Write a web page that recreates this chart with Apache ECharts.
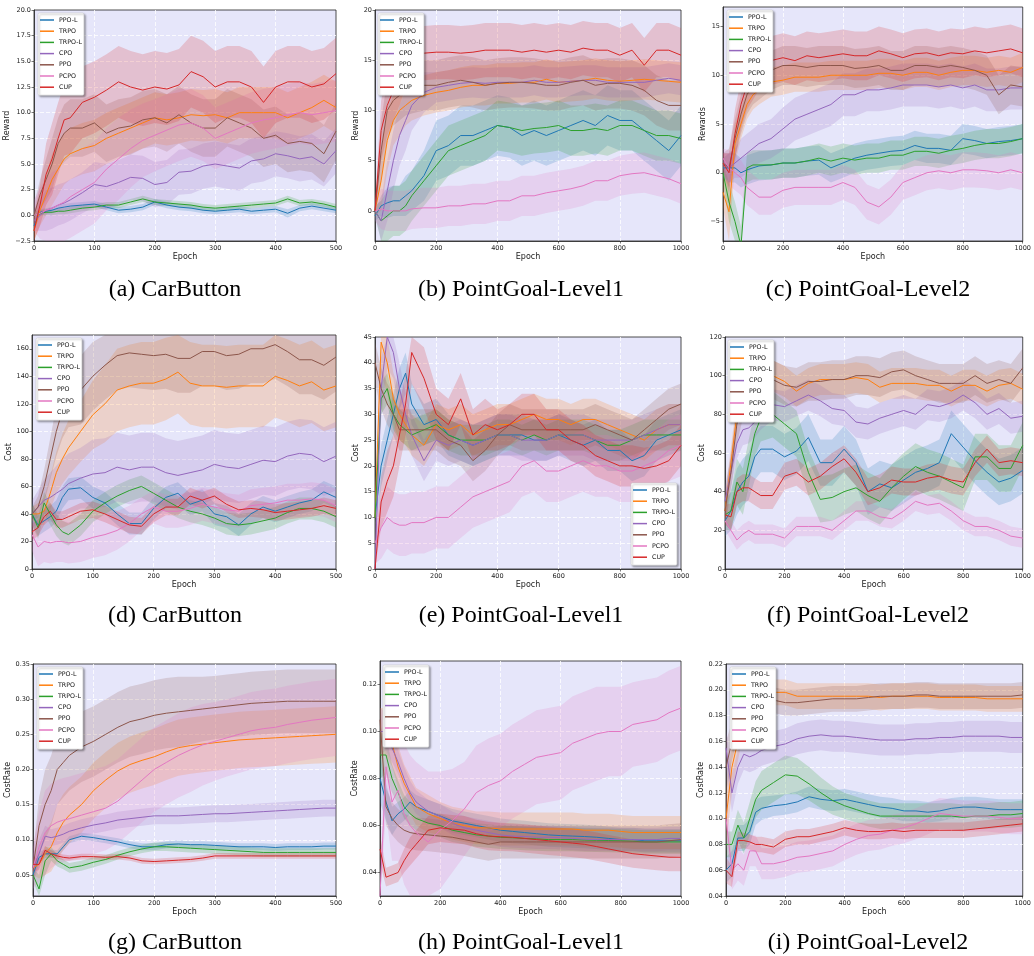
<!DOCTYPE html>
<html>
<head>
<meta charset="utf-8">
<script src="https://cdn.jsdelivr.net/npm/echarts@6/dist/echarts.min.js"></script>
<style>
  html, body { margin: 0; padding: 0; background: #fff; }
  #chart { width: 1034px; height: 956px; }
</style>
</head>
<body>
<div id="chart"></div>
<script>
var algos = ['PPO-L', 'TRPO', 'TRPO-L', 'CPO', 'PPO', 'PCPO', 'CUP'];
var colors = ['#1f77b4', '#ff7f0e', '#2ca02c', '#9467bd', '#8c564b', '#e377c2', '#d62728'];

var epochs500 = [0,10,20,30,40,50,60,80,100,120,140,160,180,200,220,240,260,280,300,320,340,360,380,400,420,440,460,480,500];
var epochs1000 = [0,20,40,60,80,100,120,160,200,240,280,320,360,400,440,480,520,560,600,640,680,720,760,800,840,880,920,960,1000];

// tick labels
var ticksA = ['-2.5','0.0','2.5','5.0','7.5','10.0','12.5','15.0','17.5','20.0'];
var ticksB = ['0','5','10','15','20'];
var ticksC = ['-5','0','5','10','15'];
var ticksD = ['0','20','40','60','80','100','120','140','160'];
var ticksE = ['0','5','10','15','20','25','30','35','40','45'];
var ticksF = ['0','20','40','60','80','100','120'];
var ticksG = ['0.05','0.10','0.15','0.20','0.25','0.30','0.35'];
var ticksH = ['0.04','0.06','0.08','0.10','0.12'];
var ticksI = ['0.04','0.06','0.08','0.10','0.12','0.14','0.16','0.18','0.20','0.22'];

// (a) CarButton - Reward
var aPPOL  = [-1.0,0.3,0.4,0.5,0.7,0.8,0.9,1.0,1.1,0.8,0.5,0.6,0.8,1.3,1.0,0.8,0.7,0.5,0.4,0.5,0.6,0.4,0.5,0.6,0.2,0.7,0.9,0.7,0.5];
var aTRPO  = [-1.5,0.5,2.0,3.5,4.5,5.5,6.0,6.5,6.8,7.5,8.0,8.5,9.0,9.5,9.3,9.5,9.8,9.7,9.8,9.5,10.0,10.0,10.0,10.0,9.5,10.0,10.5,11.2,10.5];
var aTRPOL = [0,0.2,0.3,0.3,0.4,0.4,0.5,0.7,0.8,1.0,1.0,1.3,1.6,1.3,1.2,1.1,1.0,0.8,0.7,0.8,0.9,1.0,1.1,1.2,1.6,1.2,1.3,1.1,0.8];
var aCPO   = [-0.5,0,0.5,0.7,1.0,1.2,1.5,2.2,3.0,2.8,3.2,3.7,3.6,3.0,3.2,4.2,4.3,4.8,5.0,4.8,4.6,5.3,5.5,6.0,5.8,5.5,5.7,5.0,6.3];
var aPPO   = [0,2.0,3.5,5.0,7.0,8.0,8.5,8.5,9.0,8.0,8.5,8.7,9.3,9.5,9.0,9.8,9.0,8.5,8.5,9.5,9.0,8.5,7.5,7.8,7.0,7.2,7.0,6.0,8.2];
var aPCPO  = [0,0.2,0.5,0.7,1.0,1.3,1.8,2.5,3.2,4.5,5.5,6.5,7.3,7.8,8.3,8.8,9.0,8.5,7.5,8.0,8.5,9.0,9.3,9.5,9.8,10.0,9.8,10.0,10.2];
var aCUP   = [-1.5,1.0,4.0,5.5,7.5,9.3,9.5,11.0,11.5,12.2,13.0,12.5,12.2,12.5,12.3,12.7,14.0,13.5,12.5,13.0,13.0,12.5,11.0,12.5,13.0,13.0,12.5,12.8,13.8];
var aPPOLsd  = [0.5,0.3,0.3,0.3,0.3,0.3,0.3,0.3,0.3,0.3,0.3,0.3,0.3,0.3,0.3,0.3,0.3,0.3,0.3,0.3,0.3,0.3,0.3,0.3,0.4,0.3,0.3,0.3,0.3];
var aTRPOsd  = [1.0,1.5,2.0,2.5,2.5,2.5,2.5,2.5,2.5,2.5,2.5,2.5,2.5,2.5,2.5,2.5,2.5,2.5,2.5,2.5,2.5,2.5,2.5,2.5,2.5,2.5,2.5,2.5,2.5];
var aTRPOLsd = [0.4,0.3,0.3,0.3,0.3,0.3,0.3,0.3,0.3,0.3,0.3,0.3,0.3,0.3,0.3,0.3,0.3,0.3,0.3,0.3,0.3,0.3,0.3,0.3,0.3,0.3,0.3,0.3,0.3];
var aCPOsd   = [1.0,1.5,2.0,2.0,2.0,2.0,2.0,2.0,2.2,2.2,2.2,2.2,2.2,2.2,2.2,2.2,2.2,2.2,2.2,2.2,2.2,2.2,2.2,2.2,2.2,2.2,2.2,2.2,2.2];
var aPPOsd   = [1.0,1.5,2.0,2.5,2.5,2.8,2.8,2.8,2.8,2.8,2.8,2.8,2.8,2.8,2.8,2.8,2.8,2.8,2.8,2.8,2.8,2.8,2.8,2.8,2.8,2.8,2.8,2.8,2.8];
var aPCPOsd  = [1.5,2.5,3.0,3.5,3.5,4.0,4.0,4.0,4.0,4.0,4.0,3.8,3.6,3.5,3.5,3.5,3.3,3.2,3.0,3.0,3.0,3.0,3.0,3.0,3.0,3.0,3.0,3.0,3.0];
var aCUPsd   = [1.5,2.0,3.0,3.5,3.5,3.5,3.5,3.5,3.5,3.5,3.5,3.5,3.5,3.5,3.5,3.5,3.5,3.5,3.5,3.5,3.5,3.5,3.5,3.5,3.5,3.5,3.5,3.5,3.5];

// (b) PointGoal-Level1 - Reward
var bPPOL  = [-0.5,0.5,0.8,1.0,1.0,1.5,2.0,3.5,6.0,6.5,7.5,7.5,8.0,8.5,8.3,7.5,8.0,7.5,8.0,8.5,9.0,8.5,9.5,9.0,9.0,8.0,7.0,6.0,7.5];
var bTRPO  = [0,3,7,9,10,10.5,11,11.5,11.8,12.0,12.3,12.5,12.5,12.7,12.7,12.8,12.8,13.1,12.8,12.9,13.0,13.2,13.0,12.9,13.0,13.1,13.0,12.9,12.8];
var bTRPOL = [0,-1,-0.5,0,0,0.5,1.5,3,4.5,6,6.5,7,7.5,8.5,8.3,8,8.2,8.3,8.5,8,8,8.2,8,8.5,8.5,8,7.5,7.5,7.2];
var bCPO   = [0,-1,2,5,7.5,9,10.5,11.8,12.3,12.5,12.7,12.8,12.7,12.8,12.8,12.8,13,12.8,12.8,12.9,13,13,12.8,12.8,12.8,12.8,13,13.2,13];
var bPPO   = [0,6,10,11,11.5,12,12.2,12.5,12.5,12.8,13,12.8,12.5,12.7,12.8,12.8,12.7,12.5,12.5,12.8,13,12.5,12.7,12.7,12.5,12,11,10.5,10.5];
var bPCPO  = [0,0.2,0,0,0,0,0.2,0.3,0.3,0.5,0.5,0.7,0.7,1,1,1.5,1.5,1.8,2,2.2,2.5,3,3,3.5,3.7,3.8,3.5,3.2,2.7];
var bCUP   = [0,8,10.5,12,13.5,15,15.5,15.7,15.8,15.8,15.7,15.8,16,16,16,15.8,16,15.8,16,15.8,16.2,16,16,15.5,16,14.5,16,16,15.5];
var bPPOLsd  = [0.5,1.0,1.5,1.5,1.5,2.0,2.0,2.5,3.0,3.0,3.0,3.0,3.0,3.0,3.0,3.0,3.0,3.0,3.0,3.0,3.0,3.0,3.0,3.0,3.0,3.0,3.0,3.0,3.0];
var bTRPOsd  = [0.5,3.0,3.0,2.5,2.5,2.0,2.0,2.0,2.0,2.0,2.0,2.0,2.0,2.0,2.0,2.0,2.0,2.0,2.0,2.0,2.0,2.0,2.0,2.0,2.0,2.0,2.0,2.0,2.0];
var bTRPOLsd = [0.5,2.0,2.5,2.5,2.5,2.5,2.5,2.5,2.5,2.5,2.5,2.5,2.5,2.5,2.5,2.5,2.5,2.5,2.5,2.5,2.5,2.5,2.5,2.5,2.5,2.5,2.5,2.5,2.5];
var bCPOsd   = [0.5,2.0,3.0,3.0,3.0,3.0,2.5,2.0,1.5,1.5,1.5,1.5,1.5,1.5,1.5,1.5,1.5,1.5,1.5,1.5,1.5,1.5,1.5,1.5,1.5,1.5,1.5,1.5,1.5];
var bPPOsd   = [0.5,3.0,3.0,2.5,2.5,2.5,2.5,2.5,2.5,2.5,2.5,2.5,2.5,2.5,2.5,2.5,2.5,2.5,2.5,2.5,2.5,2.5,2.5,2.5,2.5,2.5,2.5,2.5,2.5];
var bPCPOsd  = [1.0,2.0,2.0,2.0,2.0,2.0,2.0,2.0,2.0,2.0,2.0,2.0,2.0,2.0,2.0,2.0,2.0,2.0,2.0,2.0,2.0,2.0,2.0,2.0,2.0,2.0,2.0,2.0,2.0];
var bCUPsd   = [0.5,3.0,3.0,3.0,3.0,2.8,2.7,2.7,2.7,2.7,2.7,2.7,2.7,2.7,2.7,2.7,2.7,2.7,2.7,2.7,2.7,2.7,2.7,2.7,2.7,2.7,2.7,2.7,2.7];

// (c) PointGoal-Level2 - Rewards
var cPPOL  = [0.5,0.5,0.5,0,0.3,0.5,0.7,0.8,1,1,1.2,1.3,0.5,1,1.5,1.8,2,2.2,2.3,2.8,2.5,2.5,2.3,3.5,3.3,3,3.2,3.3,3.5];
var cTRPO  = [-2,-4,3,5,7,8,8.5,9.3,9.5,9.8,9.8,9.8,10,10,10,10,10.2,10.2,10,10.3,10.3,10,10.3,10.5,10.5,10.3,10.5,10.3,10.8];
var cTRPOL = [0,-3,-5,-7.5,0.5,0.8,0.8,0.8,1,1,1.2,1.5,1.2,1.5,1.3,1.5,1.5,1.8,1.8,2.2,2.2,2,2.3,2.5,2.8,3,3,3.2,3.5];
var cCPO   = [1,0.5,1,1.5,2,2.5,3,3.5,4.5,5.5,6,6.5,7,8,8,8.5,8.5,8.7,9,9,9,8.8,9,8.7,9,8.5,8.5,8.7,8.7];
var cPPO   = [1,0.5,3.5,6,8,9,9.5,10.5,11,11,10.8,11,11,11,10.7,10.8,11,10.5,10.5,11,11,10.8,11,10.8,10.5,10,8,9,8.8];
var cPCPO  = [1.5,0.5,0,-0.5,-1.5,-2,-2.5,-2.5,-1.8,-1.5,-1.5,-1.5,-1.5,-1,-1.5,-3,-3.5,-2.5,-1,-0.5,0,0.2,0,0.3,0.3,0.2,0,0.3,0];
var cCUP   = [1,0,4,7,9,10,11,11.5,11.8,11.5,12,11.8,12,12.2,12,12,12.5,12.2,11.8,12.2,12.3,12,12.3,12.2,12.5,12.3,12.5,12.7,12.3];
var cPPOLsd  = [1.0,1.5,1.5,1.5,1.5,1.5,1.5,1.5,1.5,1.5,1.5,1.5,1.5,1.5,1.5,1.5,1.5,1.5,1.5,1.5,1.5,1.5,1.5,1.5,1.5,1.5,1.5,1.5,1.5];
var cTRPOsd  = [1.5,3.0,2.0,1.5,1.5,1.5,1.5,1.5,1.5,1.5,1.5,1.5,1.5,1.5,1.5,1.5,1.5,1.5,1.5,1.5,1.5,1.5,1.5,1.5,1.5,1.5,1.5,1.5,1.5];
var cTRPOLsd = [1.0,2.0,2.0,2.0,1.5,1.5,1.5,1.5,1.5,1.5,1.5,1.5,1.5,1.5,1.5,1.5,1.5,1.5,1.5,1.5,1.5,1.5,1.5,1.5,1.5,1.5,1.5,1.5,1.5];
var cCPOsd   = [1.0,1.5,1.5,2.0,2.0,2.0,2.0,2.0,2.2,2.2,2.2,2.2,2.2,2.2,2.2,2.2,2.2,2.2,2.2,2.2,2.2,2.2,2.2,2.2,2.2,2.2,2.2,2.2,2.2];
var cPPOsd   = [1.0,2.0,2.0,2.0,2.0,2.0,2.0,2.0,2.0,2.0,2.0,2.0,2.0,2.0,2.0,2.0,2.0,2.0,2.0,2.0,2.0,2.0,2.0,2.0,2.0,2.0,2.0,2.0,2.0];
var cPCPOsd  = [1.0,1.8,1.8,1.8,1.8,1.8,1.8,1.8,1.8,1.8,1.8,1.8,1.8,1.8,1.8,1.8,1.8,1.8,1.8,1.8,1.8,1.8,1.8,1.8,1.8,1.8,1.8,1.8,1.8];
var cCUPsd   = [1.0,2.0,2.5,2.5,2.5,2.5,2.5,2.5,2.5,2.5,2.5,2.5,2.5,2.5,2.5,2.5,2.5,2.5,2.5,2.5,2.5,2.5,2.5,2.5,2.5,2.5,2.5,2.5,2.5];

// (d) CarButton - Cost
var dPPOL  = [40,32,35,38,42,52,58,59,52,48,40,33,33,44,52,55,47,50,40,38,32,40,45,42,45,48,50,56,52];
var dTRPO  = [40,40,42,55,70,80,88,100,112,120,130,133,135,135,138,143,135,133,133,132,133,133,133,140,137,133,136,130,133];
var dTRPOL = [40,30,48,40,32,27,25,32,42,48,53,57,60,55,50,45,42,40,37,33,32,33,35,37,41,44,44,42,38];
var dCPO   = [40,45,50,52,55,58,62,66,69,70,74,72,74,74,70,68,70,72,76,74,73,76,79,78,82,84,83,78,82];
var dPPO   = [40,45,60,80,100,115,125,130,140,148,155,157,156,155,156,153,153,158,158,155,156,160,160,163,158,152,152,148,154];
var dPCPO  = [25,16,20,19,20,20,19,20,23,25,28,33,40,45,42,42,44,47,45,43,42,46,47,48,50,50,51,50,46];
var dCUP   = [27,30,38,42,36,36,38,42,43,40,36,32,31,40,45,45,53,50,53,47,43,44,43,41,42,43,44,46,44];
var dPPOLsd  = [8,8,8,8,8,8,8,8,8,8,8,8,8,8,8,8,8,8,8,8,8,8,8,8,8,8,8,8,8];
var dTRPOsd  = [5,8,10,12,15,18,20,22,25,28,30,30,30,30,30,30,30,30,30,30,30,30,30,30,30,30,30,30,30];
var dTRPOLsd = [8,8,8,8,8,8,8,8,8,8,8,8,8,8,8,8,8,8,8,8,8,8,8,8,8,8,8,8,8];
var dCPOsd   = [10,12,15,18,20,22,22,22,25,25,25,25,25,25,25,25,25,25,25,25,25,25,25,25,25,25,25,25,25];
var dPPOsd   = [5,8,12,15,18,20,22,25,25,25,25,25,25,25,25,25,25,25,25,25,25,25,25,25,25,25,25,25,25];
var dPCPOsd  = [12,14,15,15,15,15,15,15,15,15,14,13,12,12,12,12,12,12,12,12,12,12,12,12,12,12,12,12,12];
var dCUPsd   = [6,6,6,6,6,6,6,6,6,6,6,6,6,6,6,6,6,6,6,6,6,6,6,6,6,6,6,6,6];

// (e) PointGoal-Level1 - Cost
var ePPOL  = [10,20,25,30,35,38,32,28,29,26,25,24,25,26,26,26,25,25,26,25,24,25,23,23,21,22,25,26,27];
var eTRPO  = [10,44,40,33,30,28,26,24,28,27,28,26,27,28,28,29,30,29,29,28,29,29,28,27,26,25,27,28,28];
var eTRPOL = [10,33,35,30,28,27,26,27,28,26,25,25,25,26,26,25,26,25,26,26,26,25,24,24,25,26,26,26,26];
var eCPO   = [0,35,45,42,35,30,26,21,25,24,25,24,25,26,26,25,25,25,26,26,26,25,25,25,25,26,27,28,28];
var ePPO   = [40,35,32,30,27,27,27,27,27,25,24,21,23,26,28,27,27,27,27,27,27,28,27,26,25,27,29,31,32];
var ePCPO  = [5,8,10,9,8.5,8.5,9,9,10,10,12,14,15,16,17,20,21,19,19,20,21,20,20,19,19,20,21,23,24];
var eCUP   = [0,13,17,20,26,32,42,37,30,28,33,26,28,27,28,30,30,27,27,25,24,22,21,20,20,19.5,20,21,24];
var ePPOLsd  = [3,4,4,4,4,4,4,4,4,4,4,4,4,4,4,4,4,4,4,4,4,4,4,4,4,4,4,4,4];
var eTRPOsd  = [3,6,6,5,5,4,4,4,4,4,4,4,4,4,4,4,4,4,4,4,4,4,4,4,4,4,4,4,4];
var eTRPOLsd = [3,3,3,3,3,3,3,3,3,3,3,3,3,3,3,3,3,3,3,3,3,3,3,3,3,3,3,3,3];
var eCPOsd   = [3,6,6,5,5,4,4,4,4,4,4,4,4,4,4,4,4,4,4,4,4,4,4,4,4,4,4,4,4];
var ePPOsd   = [4,4,4,4,4,4,4,4,4,4,4,4,4,4,4,4,4,4,4,4,4,4,4,4,4,4,4,4,4];
var ePCPOsd  = [4,6,6,6,6,6,6,6,6,6,6,6,6,6,6,6,6,6,6,6,6,6,6,6,6,6,6,6,6];
var eCUPsd   = [3,5,6,6,6,6,6,6,5,5,5,5,5,4,4,4,4,4,4,4,4,4,4,4,4,4,4,4,4];

// (f) PointGoal-Level2 - Cost
var fPPOL  = [25,30,40,45,48,58,62,62,58,61,68,55,55,62,55,40,44,42,46,50,52,55,70,63,56,50,45,47,51];
var fTRPO  = [30,55,80,100,105,103,102,100,97,92,96,98,98,98,99,98,94,96,96,96,95,95,92,95,95,92,95,96,93];
var fTRPOL = [28,30,45,40,55,70,78,80,75,70,50,36,37,40,42,38,35,42,48,53,50,48,45,42,58,58,52,52,64];
var fCPO   = [35,50,65,72,73,76,80,85,84,87,90,87,83,82,76,75,78,80,82,80,85,84,86,90,86,80,83,78,79];
var fPPO   = [30,50,75,88,95,98,100,98,95,94,97,97,98,98,100,100,99,102,103,100,98,96,96,96,100,96,98,96,104];
var fPCPO  = [25,20,15,18,20,18,18,18,16,22,22,22,20,25,30,30,27,26,30,35,33,34,30,25,22,22,20,17,16];
var fCUP   = [28,27,40,42,42,40,38,38,48,50,45,48,53,57,50,40,42,46,45,45,47,48,46,45,55,62,55,56,55];
var fPPOLsd  = [8,10,12,12,12,12,12,12,12,12,12,12,12,12,12,12,12,12,12,12,12,12,12,12,12,12,12,12,12];
var fTRPOsd  = [8,8,8,8,8,8,8,8,8,8,8,8,8,8,8,8,8,8,8,8,8,8,8,8,8,8,8,8,8];
var fTRPOLsd = [8,10,12,12,12,12,12,12,12,12,12,12,12,12,12,12,12,12,12,12,12,12,12,12,12,12,12,12,12];
var fCPOsd   = [8,8,8,8,8,8,8,8,8,8,8,8,8,8,8,8,8,8,8,8,8,8,8,8,8,8,8,8,8];
var fPPOsd   = [8,10,10,10,10,10,10,10,10,10,10,10,10,10,10,10,10,10,10,10,10,10,10,10,10,10,10,10,10];
var fPCPOsd  = [5,5,5,5,5,5,5,5,5,5,5,5,5,5,5,5,5,5,5,5,5,5,5,5,5,5,5,5,5];
var fCUPsd   = [5,7,7,7,7,7,7,7,7,7,7,7,7,7,7,7,7,7,7,7,7,7,7,7,7,7,7,7,7];

// (g) CarButton - CostRate
var gPPOL  = [0.05,0.075,0.08,0.08,0.08,0.09,0.1,0.105,0.103,0.1,0.097,0.093,0.09,0.09,0.093,0.094,0.093,0.093,0.092,0.091,0.09,0.09,0.09,0.089,0.09,0.09,0.09,0.091,0.091];
var gTRPO  = [0.06,0.065,0.08,0.09,0.11,0.125,0.135,0.15,0.17,0.185,0.198,0.207,0.213,0.218,0.225,0.231,0.234,0.236,0.238,0.24,0.242,0.243,0.244,0.245,0.246,0.247,0.248,0.249,0.25];
var gTRPOL = [0.05,0.03,0.07,0.08,0.07,0.065,0.06,0.063,0.068,0.072,0.078,0.083,0.087,0.09,0.09,0.089,0.088,0.087,0.086,0.085,0.084,0.083,0.082,0.082,0.082,0.082,0.082,0.082,0.082];
var gCPO   = [0.06,0.08,0.105,0.103,0.105,0.108,0.112,0.117,0.121,0.124,0.128,0.13,0.132,0.134,0.134,0.134,0.135,0.136,0.137,0.137,0.138,0.139,0.14,0.141,0.142,0.143,0.144,0.145,0.145];
var gPPO   = [0.06,0.12,0.15,0.17,0.2,0.21,0.22,0.232,0.24,0.25,0.26,0.268,0.272,0.277,0.28,0.282,0.284,0.286,0.288,0.29,0.292,0.294,0.295,0.296,0.297,0.297,0.297,0.297,0.297];
var gPCPO  = [0.06,0.09,0.11,0.12,0.125,0.128,0.13,0.135,0.14,0.145,0.155,0.17,0.185,0.2,0.21,0.22,0.228,0.235,0.24,0.245,0.25,0.255,0.258,0.26,0.264,0.267,0.27,0.272,0.274];
var gCUP   = [0.065,0.065,0.085,0.08,0.077,0.075,0.074,0.076,0.076,0.075,0.076,0.074,0.07,0.069,0.07,0.071,0.072,0.074,0.077,0.077,0.077,0.077,0.077,0.077,0.077,0.077,0.077,0.077,0.077];
var gPPOLsd  = [0.01,0.008,0.006,0.006,0.005,0.005,0.005,0.005,0.005,0.005,0.005,0.005,0.005,0.005,0.005,0.005,0.005,0.005,0.005,0.005,0.005,0.005,0.005,0.005,0.005,0.005,0.005,0.005,0.005];
var gTRPOsd  = [0.01,0.02,0.03,0.035,0.04,0.04,0.04,0.04,0.04,0.04,0.04,0.04,0.04,0.04,0.04,0.04,0.04,0.04,0.04,0.04,0.04,0.04,0.04,0.04,0.04,0.04,0.04,0.04,0.04];
var gTRPOLsd = [0.01,0.02,0.02,0.01,0.008,0.007,0.007,0.007,0.007,0.006,0.006,0.006,0.006,0.006,0.006,0.006,0.006,0.006,0.006,0.006,0.006,0.006,0.006,0.006,0.006,0.006,0.006,0.006,0.006];
var gCPOsd   = [0.02,0.02,0.015,0.012,0.012,0.012,0.012,0.012,0.012,0.012,0.012,0.012,0.012,0.012,0.012,0.012,0.012,0.012,0.012,0.012,0.012,0.012,0.012,0.012,0.012,0.012,0.012,0.012,0.012];
var gPPOsd   = [0.02,0.04,0.05,0.05,0.05,0.05,0.05,0.05,0.05,0.05,0.05,0.05,0.05,0.05,0.05,0.05,0.048,0.046,0.045,0.045,0.045,0.045,0.045,0.045,0.045,0.045,0.045,0.045,0.045];
var gPCPOsd  = [0.03,0.05,0.06,0.06,0.06,0.06,0.06,0.06,0.06,0.06,0.06,0.06,0.06,0.06,0.06,0.06,0.06,0.058,0.056,0.055,0.055,0.055,0.055,0.055,0.055,0.055,0.055,0.055,0.055];
var gCUPsd   = [0.01,0.008,0.006,0.005,0.004,0.004,0.004,0.004,0.004,0.004,0.004,0.004,0.004,0.004,0.004,0.004,0.004,0.004,0.004,0.004,0.004,0.004,0.004,0.004,0.004,0.004,0.004,0.004,0.004];

// (h) PointGoal-Level1 - CostRate
var hPPOL  = [0.08,0.07,0.062,0.065,0.067,0.07,0.068,0.066,0.064,0.062,0.061,0.06,0.059,0.058,0.0575,0.057,0.0565,0.056,0.0557,0.0555,0.0553,0.055,0.0545,0.054,0.054,0.0535,0.0535,0.0535,0.0535];
var hTRPO  = [0.1,0.1,0.095,0.085,0.078,0.073,0.068,0.065,0.063,0.061,0.06,0.059,0.059,0.0585,0.0585,0.0585,0.0585,0.0585,0.0585,0.0585,0.058,0.058,0.058,0.0575,0.057,0.057,0.057,0.057,0.057];
var hTRPOL = [0.09,0.09,0.08,0.074,0.068,0.065,0.063,0.061,0.06,0.058,0.057,0.056,0.0555,0.055,0.0548,0.0545,0.0543,0.054,0.054,0.054,0.0538,0.0537,0.0536,0.0535,0.0533,0.053,0.053,0.053,0.053];
var hCPO   = [0.1,0.1,0.093,0.087,0.08,0.074,0.07,0.066,0.064,0.061,0.059,0.058,0.057,0.056,0.0555,0.0553,0.055,0.055,0.0548,0.0545,0.0542,0.054,0.054,0.054,0.054,0.054,0.054,0.0545,0.0545];
var hPPO   = [0.105,0.068,0.063,0.06,0.058,0.057,0.0565,0.056,0.0555,0.055,0.054,0.053,0.052,0.053,0.053,0.053,0.053,0.053,0.053,0.053,0.053,0.053,0.053,0.053,0.053,0.053,0.053,0.0535,0.054];
var hPCPO  = [0.03,0.085,0.07,0.075,0.065,0.06,0.057,0.053,0.058,0.062,0.067,0.074,0.077,0.079,0.083,0.086,0.089,0.09,0.091,0.095,0.097,0.099,0.1,0.1,0.103,0.104,0.105,0.108,0.11];
var hCUP   = [0.05,0.038,0.039,0.04,0.045,0.049,0.052,0.058,0.059,0.0585,0.058,0.0565,0.0555,0.0552,0.055,0.0545,0.054,0.0535,0.053,0.0525,0.052,0.051,0.05,0.049,0.048,0.0475,0.047,0.0465,0.0465];
var hPPOLsd  = [0.01,0.008,0.006,0.005,0.005,0.005,0.005,0.005,0.005,0.005,0.005,0.005,0.005,0.005,0.005,0.005,0.005,0.005,0.005,0.005,0.005,0.005,0.005,0.005,0.005,0.005,0.005,0.005,0.005];
var hTRPOsd  = [0.01,0.01,0.01,0.009,0.008,0.008,0.008,0.008,0.007,0.007,0.007,0.007,0.007,0.007,0.007,0.007,0.007,0.007,0.007,0.007,0.007,0.007,0.007,0.007,0.007,0.007,0.007,0.007,0.007];
var hTRPOLsd = [0.01,0.008,0.006,0.005,0.005,0.005,0.005,0.005,0.005,0.005,0.005,0.005,0.005,0.005,0.005,0.005,0.005,0.005,0.005,0.005,0.005,0.005,0.005,0.005,0.005,0.005,0.005,0.005,0.005];
var hCPOsd   = [0.01,0.008,0.006,0.005,0.005,0.005,0.005,0.005,0.005,0.005,0.005,0.005,0.005,0.005,0.005,0.005,0.005,0.005,0.005,0.005,0.005,0.005,0.005,0.005,0.005,0.005,0.005,0.005,0.005];
var hPPOsd   = [0.01,0.008,0.007,0.007,0.007,0.007,0.007,0.007,0.007,0.007,0.007,0.007,0.007,0.007,0.007,0.007,0.007,0.007,0.007,0.007,0.007,0.007,0.007,0.007,0.007,0.007,0.007,0.007,0.007];
var hPCPOsd  = [0.005,0.02,0.025,0.03,0.03,0.03,0.03,0.03,0.025,0.022,0.02,0.02,0.02,0.02,0.02,0.02,0.02,0.02,0.02,0.02,0.02,0.02,0.019,0.019,0.018,0.018,0.018,0.018,0.018];
var hCUPsd   = [0.006,0.004,0.004,0.004,0.005,0.006,0.006,0.006,0.006,0.006,0.006,0.006,0.006,0.006,0.006,0.006,0.006,0.006,0.006,0.006,0.006,0.006,0.006,0.006,0.006,0.006,0.006,0.006,0.006];

// (i) PointGoal-Level2 - CostRate
var iPPOL  = [0.06,0.065,0.085,0.085,0.09,0.105,0.108,0.11,0.111,0.113,0.117,0.115,0.114,0.115,0.113,0.111,0.109,0.108,0.106,0.106,0.105,0.106,0.108,0.109,0.109,0.108,0.107,0.107,0.107];
var iTRPO  = [0.1,0.14,0.16,0.18,0.195,0.2,0.2,0.198,0.198,0.195,0.195,0.195,0.195,0.195,0.195,0.195,0.194,0.195,0.195,0.195,0.195,0.194,0.194,0.194,0.194,0.193,0.193,0.193,0.193];
var iTRPOL = [0.08,0.08,0.095,0.085,0.1,0.115,0.122,0.128,0.134,0.133,0.127,0.12,0.114,0.11,0.107,0.104,0.102,0.102,0.102,0.102,0.102,0.102,0.102,0.101,0.102,0.102,0.103,0.103,0.104];
var iCPO   = [0.155,0.12,0.14,0.15,0.148,0.15,0.153,0.156,0.158,0.162,0.164,0.165,0.164,0.164,0.163,0.162,0.161,0.161,0.161,0.162,0.162,0.163,0.163,0.164,0.164,0.164,0.164,0.163,0.163];
var iPPO   = [0.14,0.16,0.175,0.185,0.19,0.192,0.193,0.192,0.19,0.19,0.191,0.192,0.193,0.193,0.193,0.194,0.195,0.195,0.195,0.196,0.196,0.195,0.195,0.195,0.195,0.195,0.195,0.195,0.196];
var iPCPO  = [0.1,0.06,0.065,0.06,0.075,0.075,0.065,0.065,0.067,0.07,0.071,0.073,0.075,0.08,0.084,0.087,0.088,0.091,0.093,0.096,0.1,0.104,0.103,0.102,0.102,0.102,0.101,0.1,0.1];
var iCUP   = [0.06,0.055,0.083,0.083,0.082,0.08,0.08,0.078,0.084,0.086,0.086,0.088,0.09,0.093,0.091,0.09,0.09,0.091,0.09,0.091,0.091,0.091,0.091,0.091,0.092,0.093,0.094,0.095,0.096];
var iPPOLsd  = [0.01,0.01,0.01,0.01,0.01,0.01,0.009,0.008,0.008,0.008,0.008,0.008,0.008,0.008,0.008,0.008,0.008,0.008,0.008,0.008,0.008,0.008,0.008,0.008,0.008,0.008,0.008,0.008,0.008];
var iTRPOsd  = [0.02,0.02,0.015,0.012,0.01,0.01,0.01,0.01,0.01,0.01,0.01,0.01,0.01,0.01,0.01,0.01,0.01,0.01,0.01,0.01,0.01,0.01,0.01,0.01,0.01,0.01,0.01,0.01,0.01];
var iTRPOLsd = [0.01,0.01,0.012,0.012,0.013,0.014,0.015,0.015,0.015,0.014,0.013,0.012,0.011,0.01,0.01,0.01,0.01,0.01,0.01,0.01,0.01,0.01,0.01,0.01,0.01,0.01,0.01,0.01,0.01];
var iCPOsd   = [0.015,0.015,0.013,0.012,0.012,0.012,0.012,0.012,0.012,0.012,0.012,0.012,0.012,0.012,0.012,0.012,0.012,0.012,0.012,0.012,0.012,0.012,0.012,0.012,0.012,0.012,0.012,0.012,0.012];
var iPPOsd   = [0.02,0.015,0.012,0.01,0.01,0.01,0.01,0.01,0.01,0.01,0.01,0.01,0.01,0.01,0.01,0.01,0.01,0.01,0.01,0.01,0.01,0.01,0.01,0.01,0.01,0.01,0.01,0.01,0.01];
var iPCPOsd  = [0.02,0.015,0.013,0.012,0.012,0.012,0.012,0.012,0.012,0.012,0.012,0.012,0.012,0.012,0.012,0.012,0.012,0.012,0.012,0.012,0.012,0.012,0.012,0.012,0.012,0.012,0.012,0.012,0.012];
var iCUPsd   = [0.01,0.008,0.007,0.006,0.006,0.006,0.006,0.006,0.006,0.006,0.006,0.006,0.006,0.006,0.006,0.006,0.006,0.006,0.006,0.006,0.006,0.006,0.006,0.006,0.006,0.006,0.006,0.006,0.006];

var panels = [
    {cap: '(a) CarButton', yName: 'Reward', x: epochs500, xMax: 500, xStep: 100, yMin: -2.5, yMax: 20, ticks: ticksA,
     means: [aPPOL, aTRPO, aTRPOL, aCPO, aPPO, aPCPO, aCUP], sds: [aPPOLsd, aTRPOsd, aTRPOLsd, aCPOsd, aPPOsd, aPCPOsd, aCUPsd]},
    {cap: '(b) PointGoal-Level1', yName: 'Reward', x: epochs1000, xMax: 1000, xStep: 200, yMin: -3, yMax: 20, ticks: ticksB,
     means: [bPPOL, bTRPO, bTRPOL, bCPO, bPPO, bPCPO, bCUP], sds: [bPPOLsd, bTRPOsd, bTRPOLsd, bCPOsd, bPPOsd, bPCPOsd, bCUPsd]},
    {cap: '(c) PointGoal-Level2', yName: 'Rewards', x: epochs1000, xMax: 1000, xStep: 200, yMin: -7, yMax: 17, ticks: ticksC,
     means: [cPPOL, cTRPO, cTRPOL, cCPO, cPPO, cPCPO, cCUP], sds: [cPPOLsd, cTRPOsd, cTRPOLsd, cCPOsd, cPPOsd, cPCPOsd, cCUPsd]},
    {cap: '(d) CarButton', yName: 'Cost', x: epochs500, xMax: 500, xStep: 100, yMin: 0, yMax: 170, ticks: ticksD,
     means: [dPPOL, dTRPO, dTRPOL, dCPO, dPPO, dPCPO, dCUP], sds: [dPPOLsd, dTRPOsd, dTRPOLsd, dCPOsd, dPPOsd, dPCPOsd, dCUPsd]},
    {cap: '(e) PointGoal-Level1', yName: 'Cost', x: epochs1000, xMax: 1000, xStep: 200, yMin: 0, yMax: 45, ticks: ticksE,
     means: [ePPOL, eTRPO, eTRPOL, eCPO, ePPO, ePCPO, eCUP], sds: [ePPOLsd, eTRPOsd, eTRPOLsd, eCPOsd, ePPOsd, ePCPOsd, eCUPsd]},
    {cap: '(f) PointGoal-Level2', yName: 'Cost', x: epochs1000, xMax: 1000, xStep: 200, yMin: 0, yMax: 120, ticks: ticksF,
     means: [fPPOL, fTRPO, fTRPOL, fCPO, fPPO, fPCPO, fCUP], sds: [fPPOLsd, fTRPOsd, fTRPOLsd, fCPOsd, fPPOsd, fPCPOsd, fCUPsd]},
    {cap: '(g) CarButton', yName: 'CostRate', x: epochs500, xMax: 500, xStep: 100, yMin: 0.02, yMax: 0.35, ticks: ticksG,
     means: [gPPOL, gTRPO, gTRPOL, gCPO, gPPO, gPCPO, gCUP], sds: [gPPOLsd, gTRPOsd, gTRPOLsd, gCPOsd, gPPOsd, gPCPOsd, gCUPsd]},
    {cap: '(h) PointGoal-Level1', yName: 'CostRate', x: epochs1000, xMax: 1000, xStep: 200, yMin: 0.03, yMax: 0.13, ticks: ticksH,
     means: [hPPOL, hTRPO, hTRPOL, hCPO, hPPO, hPCPO, hCUP], sds: [hPPOLsd, hTRPOsd, hTRPOLsd, hCPOsd, hPPOsd, hPCPOsd, hCUPsd]},
    {cap: '(i) PointGoal-Level2', yName: 'CostRate', x: epochs1000, xMax: 1000, xStep: 200, yMin: 0.04, yMax: 0.22, ticks: ticksI,
     means: [iPPOL, iTRPO, iTRPOL, iCPO, iPPO, iPCPO, iCUP], sds: [iPPOLsd, iTRPOsd, iTRPOLsd, iCPOsd, iPPOsd, iPCPOsd, iCUPsd]}
];

// pixel layout of each subplot: grid box, legend corner, caption centre, y-name gap
var layout = [
    {grid: [34, 10, 302, 231],  leg: [38, 13],   cap: [175, 290], gap: 18},
    {grid: [375, 10, 306, 231], leg: [378, 13],  cap: [521, 290], gap: 12},
    {grid: [723, 7, 305, 234],  leg: [727, 10],  cap: [868, 290], gap: 14},
    {grid: [32, 335, 304, 234], leg: [36, 338],  cap: [175, 616], gap: 16},
    {grid: [375, 337, 306, 232],leg: [631, 483], cap: [521, 616], gap: 12},
    {grid: [725, 337, 303, 232],leg: [728, 340], cap: [868, 616], gap: 16},
    {grid: [33, 664, 303, 232], leg: [37, 667],  cap: [175, 943], gap: 17},
    {grid: [380, 661, 301, 235],leg: [383, 665], cap: [521, 943], gap: 18},
    {grid: [726, 664, 302, 232],leg: [730, 667], cap: [868, 943], gap: 17}
];

function rgba(hex, a) {
    var n = parseInt(hex.slice(1), 16);
    return 'rgba(' + (n >> 16) + ',' + ((n >> 8) & 255) + ',' + (n & 255) + ',' + a + ')';
}

// shaded band between mean - sd and mean + sd, drawn as one polygon
function bandRenderer(xs, m, sd, color, yMin, yMax) {
    return function (params, api) {
        if (params.dataIndex !== 0) return null;
        var up = [], dn = [];
        for (var i = 0; i < xs.length; i++) {
            up.push(api.coord([xs[i], Math.min(yMax, Math.max(yMin, m[i] + sd[i]))]));
            dn.push(api.coord([xs[i], Math.min(yMax, Math.max(yMin, m[i] - sd[i]))]));
        }
        return {
            type: 'polygon', silent: true,
            shape: {points: up.concat(dn.reverse())},
            style: {fill: rgba(color, 0.2)}
        };
    };
}

var font = 'DejaVu Sans';
var grids = [], xAxes = [], yAxes = [], legends = [], series = [], graphics = [];

panels.forEach(function (p, gi) {
    var L = layout[gi];
    grids.push({
        left: L.grid[0], top: L.grid[1], width: L.grid[2], height: L.grid[3],
        show: true, backgroundColor: '#e6e6fa', borderColor: '#222', borderWidth: 0.8
    });
    xAxes.push({
        type: 'value', gridIndex: gi, min: 0, max: p.xMax, interval: p.xStep,
        name: 'Epoch', nameLocation: 'middle', nameGap: 12,
        nameTextStyle: {fontFamily: font, fontSize: 8, color: '#222'},
        axisLine: {show: true, onZero: false, lineStyle: {color: '#222', width: 0.8}},
        axisTick: {show: true, length: 2.5, lineStyle: {color: '#222', width: 0.6}},
        axisLabel: {fontFamily: font, fontSize: 6.5, color: '#222', margin: 4,
                    formatter: function (v) { return String(v); }},
        splitLine: {show: true, showMinLine: false, showMaxLine: false,
                    lineStyle: {color: '#fff', type: [4, 2], width: 0.8}}
    });
    var tickVals = p.ticks.map(Number);
    yAxes.push({
        type: 'value', gridIndex: gi, min: p.yMin, max: p.yMax,
        name: p.yName, nameLocation: 'middle', nameGap: L.gap,
        nameTextStyle: {fontFamily: font, fontSize: 8, color: '#222'},
        axisLine: {show: true, onZero: false, lineStyle: {color: '#222', width: 0.8}},
        axisTick: {show: true, length: 2.5, customValues: tickVals, lineStyle: {color: '#222', width: 0.6}},
        axisLabel: {
            fontFamily: font, fontSize: 6.5, color: '#222', margin: 3, customValues: tickVals,
            formatter: function (v) {
                for (var t = 0; t < tickVals.length; t++) {
                    if (Math.abs(tickVals[t] - v) < 1e-9) return p.ticks[t].replace('-', '\u2212');
                }
                return '';
            }
        },
        splitLine: {show: true, showMinLine: false, showMaxLine: false,
                    lineStyle: {color: '#fff', type: [4, 2], width: 0.8}}
    });
    legends.push({
        data: algos, left: L.leg[0], top: L.leg[1], orient: 'vertical', selectedMode: false,
        icon: 'rect', itemWidth: 14, itemHeight: 1.5, itemGap: 3.2, padding: [3, 2, 4, 2],
        backgroundColor: '#fff', borderColor: '#cccccc', borderWidth: 0.6, borderRadius: 1.5,
        shadowBlur: 2, shadowColor: 'rgba(0,0,0,0.35)', shadowOffsetX: 1.5, shadowOffsetY: 1.5,
        textStyle: {fontFamily: font, fontSize: 6.3, color: '#111', lineHeight: 8}
    });
    graphics.push({
        type: 'text', x: L.cap[0], y: L.cap[1],
        style: {text: p.cap, fontFamily: 'Liberation Serif', fontSize: 24, fill: '#000',
                align: 'center', verticalAlign: 'middle'}
    });

    p.means.forEach(function (m, k) {
        var sd = p.sds[k];
        if (m.length !== p.x.length || sd.length !== p.x.length) {
            throw new Error('length mismatch in panel ' + p.cap + ' / ' + algos[k]);
        }
        var band = [], line = [];
        for (var i = 0; i < p.x.length; i++) {
            band.push([p.x[i], m[i] - sd[i], m[i] + sd[i]]);
            line.push([p.x[i], m[i]]);
        }
        series.push({
            type: 'custom', xAxisIndex: gi, yAxisIndex: gi, data: band, silent: true,
            encode: {x: 0, y: [1, 2]},
            renderItem: bandRenderer(p.x, m, sd, colors[k], p.yMin, p.yMax), z: 1
        });
        series.push({
            type: 'line', name: algos[k], xAxisIndex: gi, yAxisIndex: gi, data: line,
            symbol: 'none', lineStyle: {color: colors[k], width: 1}, itemStyle: {color: colors[k]}, z: 2
        });
    });
});

var myChart = echarts.init(document.getElementById('chart'));
myChart.setOption({
    animation: false,
    backgroundColor: '#fff',
    grid: grids,
    xAxis: xAxes,
    yAxis: yAxes,
    legend: legends,
    graphic: graphics,
    series: series
});
</script>
</body>
</html>
